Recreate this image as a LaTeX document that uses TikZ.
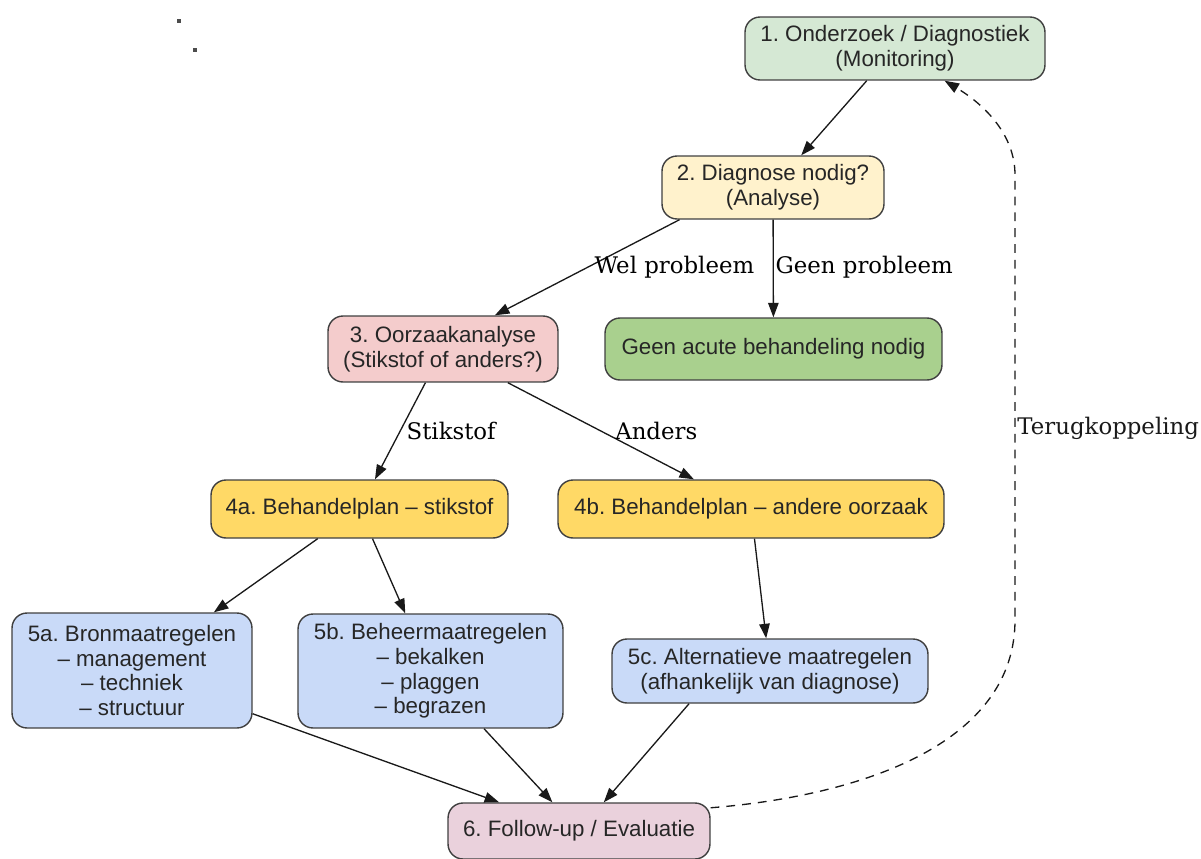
\documentclass[tikz,border=0pt]{standalone}
\usepackage{fontspec}
\setmainfont{Liberation Sans}
\newfontfamily\labelfont{DejaVu Serif}
\usepackage{xcolor}
\usetikzlibrary{arrows.meta, shapes}
\frenchspacing

\definecolor{monitorgreen}{HTML}{D5E8D4}
\definecolor{okgreen}{HTML}{A9D08E}
\definecolor{askyellow}{HTML}{FFF2CC}
\definecolor{planyellow}{HTML}{FFD966}
\definecolor{causepink}{HTML}{F4CCCC}
\definecolor{measureblue}{HTML}{C9DAF8}
\definecolor{evalpink}{HTML}{EAD1DC}

\begin{document}
\begin{tikzpicture}[x=0.02cm, y=-0.02cm]
\useasboundingbox (0,0) rectangle (1201,859);
\fill[black!70] (177,19) rectangle ++(4,4);
\fill[black!70] (193,48) rectangle ++(4,4);

\begin{scope}[every node/.style={rectangle, rounded corners=0.3cm, draw=black!75, thick,
              inner sep=0pt, align=center, text=black!85,
              font=\fontsize{12.7}{14.1}\selectfont}]
  \node[fill=monitorgreen, minimum width=6cm, minimum height=1.26cm] (O) at (895,48.5) {1. Onderzoek / Diagnostiek\\(Monitoring)};
  \node[fill=askyellow, minimum width=4.44cm, minimum height=1.26cm] (D) at (773,187.5) {2. Diagnose nodig?\\(Analyse)};
  \node[fill=causepink, minimum width=4.6cm, minimum height=1.32cm] (R) at (443,349) {3. Oorzaakanalyse\\(Stikstof of anders?)};
  \node[fill=okgreen, minimum width=6.74cm, minimum height=1.24cm] (G) at (773.5,349) {Geen acute behandeling nodig};
  \node[fill=planyellow, minimum width=5.94cm, minimum height=1.16cm] (Pa) at (359.5,509) {4a. Behandelplan – stikstof};
  \node[fill=planyellow, minimum width=7.72cm, minimum height=1.16cm] (Pb) at (751,509) {4b. Behandelplan – andere oorzaak};
  \node[fill=measureblue, minimum width=4.8cm, minimum height=2.3cm] (Ma) at (132,670.5) {5a. Bronmaatregelen\\– management\\– techniek\\– structuur};
  \node[fill=measureblue, minimum width=5.3cm, minimum height=2.28cm] (Mb) at (430.5,671) {5b. Beheermaatregelen\\– bekalken\\– plaggen\\– begrazen};
  \node[fill=measureblue, minimum width=6.32cm, minimum height=1.28cm] (Mc) at (770,671) {5c. Alternatieve maatregelen\\(afhankelijk van diagnose)};
  \node[fill=evalpink, minimum width=5.24cm, minimum height=1.12cm] (F) at (579,831) {6. Follow-up / Evaluatie};
\end{scope}

\begin{scope}[>={Triangle[length=0.29cm, width=0.21cm]},
              every node/.style={inner sep=1pt, font=\labelfont\fontsize{13}{15}\selectfont},
              every edge/.style={draw=black!90, line width=0.75pt}]
    \path[->] (O) edge (D);
    \path[->] (D.199) edge node[pos=0.5, anchor=west, xshift=0.1cm] {Wel probleem} (R.33);
    \path[->] (D) edge node[pos=0.485, anchor=west] {Geen probleem} (G);
    \path[->] (R) edge node[pos=0.5, anchor=west, xshift=0.08cm] {Stikstof} (Pa);
    \path[->] (R) edge node[pos=0.5, anchor=west, xshift=0.24cm] {Anders} (Pb);
    \path[->] (Pa) edge (Ma);
    \path[->] (Pa) edge (Mb);
    \path[->] (Pb) edge (Mc);
    \path[->] (Ma) edge (F);
    \path[->] (Mb) edge (F);
    \path[->] (Mc.202) edge (F);
\end{scope}

% feedback loop
\coordinate (fbl) at (1015,620);
\coordinate (fbh) at (1015,175);
\begin{scope}[>={Triangle[length=0.29cm, width=0.21cm]}]
    \draw[->, black!90, line width=0.75pt, dash pattern=on 5pt off 4pt]
      (F.10) .. controls (870,795) and (1015,740) .. (fbl)
      -- node[pos=0.431, anchor=west, inner sep=1pt, font=\labelfont\fontsize{13}{15}\selectfont] {Terugkoppeling} (fbh)
      .. controls (1015,135) and (985,105) .. (O.327);
\end{scope}

\end{tikzpicture}
\end{document}
